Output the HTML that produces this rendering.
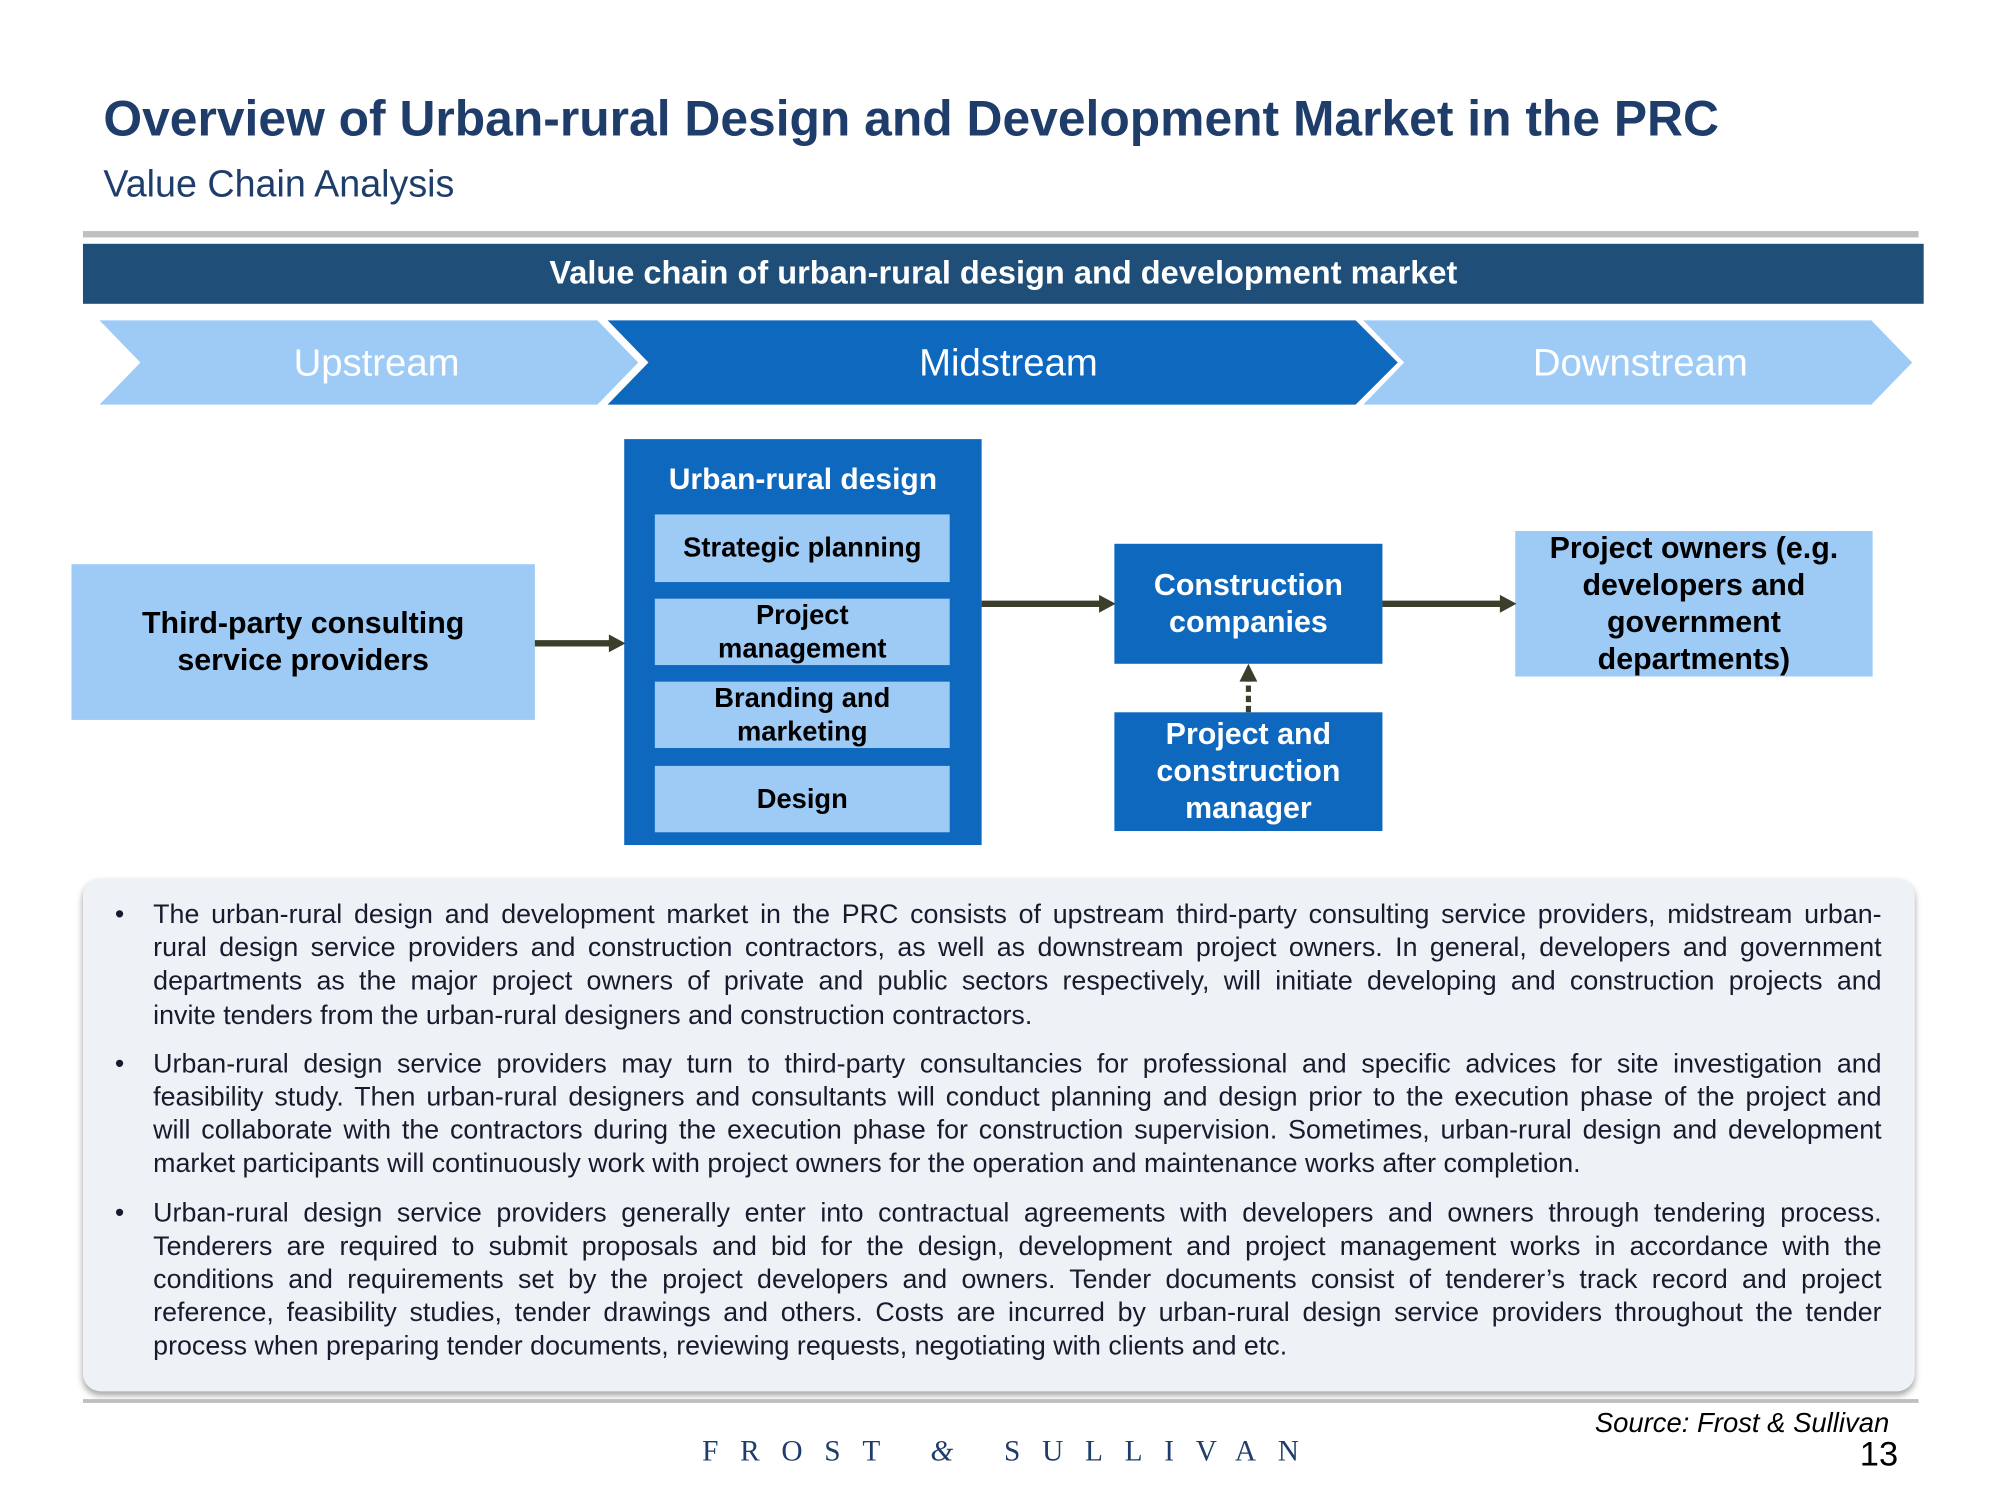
<!DOCTYPE html>
<html><head><meta charset="utf-8"><style>
html,body{margin:0;padding:0;background:#fff;}
body{width:2000px;height:1500px;overflow:hidden;position:relative;}
#w{position:absolute;left:0;top:0;width:1555px;height:1166px;transform:scale(1.2765);transform-origin:0 0;font-family:"Liberation Sans",Arial,sans-serif;}
.a{position:absolute;}
.lt{background:#9ecbf6;}
.bl{background:#0e68be;}
.c{display:flex;align-items:center;justify-content:center;text-align:center;font-weight:bold;}
.ln{display:block;text-align:justify;text-align-last:justify;white-space:nowrap;}
.last{text-align-last:left;}
</style></head><body><div id="w">
<div class="a" style="left:81px;top:72px;font-size:39px;font-weight:bold;color:#1f3d6b;white-space:nowrap;">Overview of Urban-rural Design and Development Market in the PRC</div>
<div class="a" style="left:81px;top:128px;font-size:29.5px;color:#1f3d6b;white-space:nowrap;">Value Chain Analysis</div>
<div class="a" style="left:65px;top:181px;width:1438px;height:5px;background:#bfbfbf;"></div>
<div class="a c" style="left:65px;top:191px;width:1442px;height:47px;background:#1f4e79;color:#fff;font-size:25.5px;">Value chain of urban-rural design and development market</div>
<svg class="a" style="left:0;top:0" width="1555" height="340">
<polygon points="78,251 468,251 500,284 468,317 78,317 110,284" fill="#9ecbf6"/>
<polygon points="476,251 1062,251 1095,284 1062,317 476,317 508,284" fill="#0e68be"/>
<polygon points="1068,251 1466,251 1498,284 1466,317 1068,317 1100,284" fill="#9ecbf6"/>
<text x="295" y="294" fill="#fff" font-size="30" text-anchor="middle" font-family="Liberation Sans">Upstream</text>
<text x="790" y="294" fill="#fff" font-size="30" text-anchor="middle" font-family="Liberation Sans">Midstream</text>
<text x="1285" y="294" fill="#fff" font-size="30" text-anchor="middle" font-family="Liberation Sans">Downstream</text>
</svg>
<div class="a bl" style="left:489px;top:344px;width:280px;height:318px;"></div>
<div class="a c" style="left:489px;top:360px;width:280px;height:30px;color:#fff;font-size:23.5px;">Urban-rural design</div>
<div class="a lt c" style="left:513px;top:403px;width:231px;height:53px;font-size:21.4px;">Strategic planning</div>
<div class="a lt c" style="left:513px;top:469px;width:231px;height:52px;font-size:21.4px;line-height:26px;">Project<br>management</div>
<div class="a lt c" style="left:513px;top:534px;width:231px;height:52px;font-size:21.4px;line-height:26px;">Branding and<br>marketing</div>
<div class="a lt c" style="left:513px;top:600px;width:231px;height:52px;font-size:21.4px;">Design</div>
<div class="a lt c" style="left:56px;top:442px;width:363px;height:122px;font-size:23.8px;line-height:29px;">Third-party consulting<br>service providers</div>
<div class="a bl c" style="left:873px;top:426px;width:210px;height:94px;font-size:23.8px;line-height:29px;color:#fff;">Construction<br>companies</div>
<div class="a bl c" style="left:873px;top:558px;width:210px;height:93px;font-size:23.8px;line-height:29px;color:#fff;">Project and<br>construction<br>manager</div>
<div class="a lt c" style="left:1187px;top:416px;width:280px;height:114px;font-size:23.8px;line-height:29px;white-space:nowrap;">Project owners (e.g.<br>developers and<br>government<br>departments)</div>
<svg class="a" style="left:0;top:0" width="1555" height="700">
<line x1="419" y1="504" x2="478" y2="504" stroke="#3d3d2b" stroke-width="5"/>
<polygon points="477,497 490,504 477,511" fill="#3d3d2b"/>
<line x1="769" y1="473" x2="862" y2="473" stroke="#3d3d2b" stroke-width="5"/>
<polygon points="861,466 874,473 861,480" fill="#3d3d2b"/>
<line x1="1083" y1="473" x2="1176" y2="473" stroke="#3d3d2b" stroke-width="5"/>
<polygon points="1175,466 1188,473 1175,480" fill="#3d3d2b"/>
<line x1="978" y1="558" x2="978" y2="532" stroke="#3d3d2b" stroke-width="4" stroke-dasharray="5,3"/>
<polygon points="971,534 978,520 985,534" fill="#3d3d2b"/>
</svg>
<div class="a" style="left:65px;top:688px;width:1435px;height:402px;background:#eef2f7;border-radius:14px;box-shadow:0 3px 5px rgba(0,0,0,0.35);"></div>
<div class="a" style="left:120px;top:704px;width:1354px;font-size:21px;line-height:26.2px;color:#1a1a2e;">
<div style="position:relative;"><span style="position:absolute;left:-30px;">•</span>
<span class="ln">The urban-rural design and development market in the PRC consists of upstream third-party consulting service providers, midstream urban-</span>
<span class="ln">rural design service providers and construction contractors, as well as downstream project owners. In general, developers and government</span>
<span class="ln">departments as the major project owners of private and public sectors respectively, will initiate developing and construction projects and</span>
<span class="ln last">invite tenders from the urban-rural designers and construction contractors.</span></div>
<div style="position:relative;margin-top:12px;"><span style="position:absolute;left:-30px;">•</span>
<span class="ln">Urban-rural design service providers may turn to third-party consultancies for professional and specific advices for site investigation and</span>
<span class="ln">feasibility study. Then urban-rural designers and consultants will conduct planning and design prior to the execution phase of the project and</span>
<span class="ln">will collaborate with the contractors during the execution phase for construction supervision. Sometimes, urban-rural design and development</span>
<span class="ln last">market participants will continuously work with project owners for the operation and maintenance works after completion.</span></div>
<div style="position:relative;margin-top:12px;"><span style="position:absolute;left:-30px;">•</span>
<span class="ln">Urban-rural design service providers generally enter into contractual agreements with developers and owners through tendering process.</span>
<span class="ln">Tenderers are required to submit proposals and bid for the design, development and project management works in accordance with the</span>
<span class="ln">conditions and requirements set by the project developers and owners. Tender documents consist of tenderer’s track record and project</span>
<span class="ln">reference, feasibility studies, tender drawings and others. Costs are incurred by urban-rural design service providers throughout the tender</span>
<span class="ln last">process when preparing tender documents, reviewing requests, negotiating with clients and etc.</span></div>
</div>
<div class="a" style="left:65px;top:1096px;width:1438px;height:3px;background:#bfbfbf;"></div>
<div class="a" style="right:75px;top:1103px;font-size:21.5px;font-style:italic;color:#000;white-space:nowrap;">Source: Frost &amp; Sullivan</div>
<div class="a" style="right:68px;top:1124px;font-size:27px;color:#000;">13</div>
<div class="a" style="left:550px;top:1124px;font-family:'Liberation Serif',serif;font-size:23px;letter-spacing:17px;color:#1f3d6b;white-space:nowrap;">FROST <i style="letter-spacing:17px;">&amp;</i> SULLIVAN</div>
</div></body></html>
